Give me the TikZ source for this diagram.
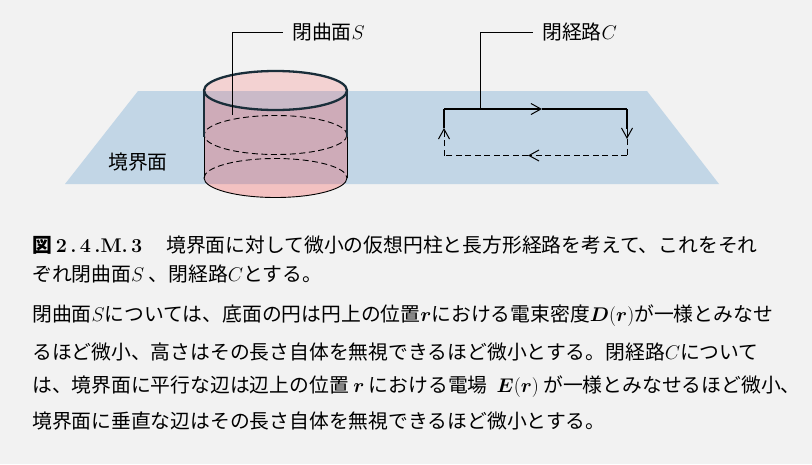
\RequirePackage{fix-cm}
\documentclass[tikz,border=0pt]{standalone}
\usepackage{fontspec}
\usepackage{bm}
\newfontfamily\jp{Noto Sans CJK JP}
\usetikzlibrary{positioning}
\usetikzlibrary{arrows.meta}

\definecolor{bgcol}{RGB}{242,242,242}
\definecolor{planecol}{RGB}{194,214,230}
\definecolor{cylcol}{RGB}{250,32,32}
\definecolor{rimcol}{RGB}{26,46,58}

\begin{document}
\begin{tikzpicture}[x=1pt,y=-1pt,
    txt/.style={font=\jp\fontsize{19.8}{24}\selectfont, inner sep=0pt},
    capline/.style={txt, anchor=west},
    lbl/.style={txt, anchor=west, inner xsep=9pt},
    rim/.style={draw=rimcol, line width=2.3pt},
    thinline/.style={line width=0.9pt},
    dashline/.style={line width=0.9pt, dash pattern=on 6pt off 3.5pt},
    loopline/.style={line width=2.3pt},
    barb/.style={-{Straight Barb[length=10pt,width=11pt,line width=1pt]}}]
  \useasboundingbox (0,0) rectangle (812,464);
  \fill[bgcol] (0,0) rectangle (812,464);
  \fill[planecol] (138,91) -- (647,91) -- (719,184) -- (65,184) -- cycle;
  \node[capline] (plane) at (108,162) {境界面};

  \fill[cylcol, opacity=.23] (204,90.5) -- (204,178)
    arc[start angle=180, end angle=0, x radius=71.5, y radius=19.5] -- (347,90.5)
    arc[start angle=0, end angle=180, x radius=71.5, y radius=19.5] -- cycle;
  \fill[cylcol, opacity=.15] (275.5,90.5) ellipse[x radius=71.5, y radius=19.5];
  \draw[dashline] (275.5,135) ellipse[x radius=71.5, y radius=19.5];
  \draw[dashline] (204,178) arc[start angle=180, end angle=360, x radius=71.5, y radius=19.5];
  \draw[thinline] (204,178) arc[start angle=180, end angle=0, x radius=71.5, y radius=19.5];
  \draw[thinline] (204,90.5) -- (204,178) (347,90.5) -- (347,178);
  \draw[rim, line width=1.8pt] (204,90.5) -- (204,137) (347,90.5) -- (347,137);
  \draw[rim] (275.5,90.5) ellipse[x radius=71.5, y radius=19.5];

  \coordinate (sfoot) at (232,115);
  \node[lbl] (slabel) at (283,32) {閉曲面$S$};
  \draw[thinline] (sfoot) |- (slabel);

  \coordinate (ctl) at (444,109);
  \coordinate (ctr) at (627,109);
  \coordinate (cbl) at (444,155.5);
  \coordinate (cbr) at (627,155.5);
  \coordinate (ctmid) at (542,109);
  \coordinate (cbmid) at (528,155.5);
  \coordinate (cltip) at (444,128);
  \coordinate (crstem) at (627,129);
  \coordinate (crtip) at (627,139);
  \draw[loopline, barb] (ctl) -- (ctmid);
  \draw[loopline] (ctmid) -- (ctr);
  \draw[loopline] (ctl) -- (cltip);
  \draw[loopline] (ctr) -- (crstem);
  \draw[thinline, barb] (627,126) -- (crtip);
  \draw[dashline] (crtip) -- (cbr);
  \draw[dashline, barb] (cbr) -- (cbmid);
  \draw[dashline] (cbmid) -- (cbl);
  \draw[dashline, barb] (cbl) -- (cltip);

  \coordinate (cfoot) at (480,109);
  \node[lbl] (clabel) at (533,32) {閉経路$C$};
  \draw[thinline] (cfoot) |- (clabel);

  \node[capline] (fig) at (32,245) {\bfseries 図\hspace{4pt}{\rmfamily 2\,.\,4\,.M.\,3}};
  \node[capline] (l1) at (166,245) {境界面に対して微小の仮想円柱と長方形経路を考えて、これをそれ};
  \node[capline] (l2) at (32,274) {ぞれ閉曲面$S$ 、閉経路$C$とする。};
  \node[capline] (l3) at (32,316) {閉曲面$S$については、底面の円は円上の位置$\bm{r}$における電束密度$\bm{D}(\bm{r})$が一様とみなせ};
  \node[capline] (l4) at (32,352) {るほど微小、高さはその長さ自体を無視できるほど微小とする。閉経路$C$について};
  \node[capline] (l5) at (32,387) {は、境界面に平行な辺は辺上の位置 $\bm{r}$ における電場 \ $\bm{E}(\bm{r})$ が一様とみなせるほど微小、};
  \node[capline] (l6) at (32,421) {境界面に垂直な辺はその長さ自体を無視できるほど微小とする。};
\end{tikzpicture}
\end{document}
